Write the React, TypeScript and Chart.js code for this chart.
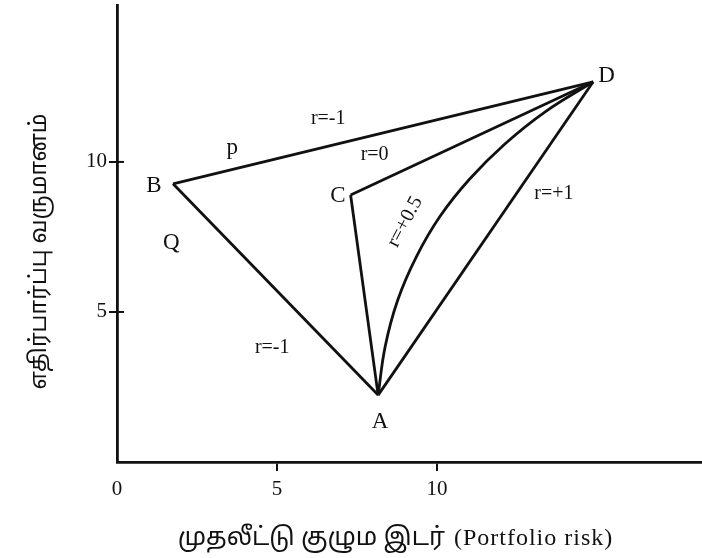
import { useEffect, useRef } from 'react';
import { Chart, registerables } from 'chart.js';

Chart.register(...registerables);

// Corner points of the portfolio diagram (risk, expected return)
const pointNames = ['A', 'B', 'C', 'D'];
const pointRisk = [8.16, 1.75, 7.3, 14.88];
const pointReturn = [2.23, 9.27, 8.9, 12.67];

// Straight connections between the named points
const segmentFrom = ['B', 'B', 'C', 'C', 'A'];
const segmentTo = ['D', 'A', 'D', 'A', 'D'];

// Curved frontier for r = +0.5 from A to D
const curveRisk = [8.16, 8.38, 8.77, 9.35, 10.09, 11.02, 12.12, 13.39, 14.88];
const curveReturn = [2.23, 3.85, 5.39, 6.83, 8.18, 9.43, 10.6, 11.68, 12.67];

// Axis ticks
const xTickValues = [0, 5, 10];
const yTickValues = [5, 10];
const xMaxValue = 18.28;
const yMaxValue = 15.23;

// Text notes placed in data coordinates
const noteTexts = ['A', 'B', 'C', 'D', 'p', 'r=-1', 'r=0', 'r=+0.5', 'r=+1', 'Q', 'r=-1'];
const noteRisk = [8.22, 1.15, 6.9, 15.3, 3.6, 6.6, 8.05, 9.0, 13.65, 1.7, 4.85];
const noteReturn = [1.35, 9.2, 8.85, 12.85, 10.45, 11.45, 10.25, 8.0, 8.95, 7.3, 3.8];
const noteAngles = [0, 0, 0, 0, 0, 0, 0, -62, 0, 0, 0];

const xTitleTamil = 'முதலீட்டு குழும இடர்';
const xTitleLatin = '(Portfolio risk)';
const yTitle = 'எதிர்பார்ப்பு வருமானம்';

const INK = '#111111';
const SERIF = "'Liberation Serif', 'DejaVu Serif', serif";
const MIXED = "'Liberation Serif', 'Noto Sans Tamil', 'Noto Serif Tamil', 'Lohit Tamil', serif";

const idx = (name: string) => pointNames.indexOf(name);

const notesPlugin = {
  id: 'notes',
  afterDraw(chart: any) {
    const { ctx, scales } = chart;
    const xs = scales.x;
    const ys = scales.y;
    ctx.save();
    // inner half of the y-axis tick crosses
    ctx.strokeStyle = INK;
    ctx.lineWidth = 2;
    yTickValues.forEach((v) => {
      const py = ys.getPixelForValue(v);
      ctx.beginPath();
      ctx.moveTo(xs.left, py);
      ctx.lineTo(xs.left + 7, py);
      ctx.stroke();
    });
    ctx.fillStyle = INK;
    ctx.textAlign = 'center';
    ctx.textBaseline = 'middle';
    noteTexts.forEach((t, i) => {
      const px = xs.getPixelForValue(noteRisk[i]);
      const py = ys.getPixelForValue(noteReturn[i]);
      const isLetter = t.length === 1;
      ctx.font = `${isLetter ? 23 : 20}px ${SERIF}`;
      ctx.save();
      ctx.translate(px, py);
      ctx.rotate((noteAngles[i] * Math.PI) / 180);
      ctx.fillText(t, 0, 0);
      ctx.restore();
    });
    // x-axis title: Tamil part + Latin part
    const titleY = chart.height - 20;
    const centerX = (xs.left + xs.right) / 2 - 14;
    ctx.textAlign = 'left';
    ctx.font = `25px ${MIXED}`;
    const wTamil = ctx.measureText(xTitleTamil).width;
    ctx.font = `24px ${SERIF}`;
    (ctx as any).letterSpacing = '1px';
    const wLatin = ctx.measureText(xTitleLatin).width;
    const gap = 9;
    const startX = centerX - (wTamil + gap + wLatin) / 2;
    ctx.fillText(xTitleLatin, startX + wTamil + gap, titleY + 1);
    (ctx as any).letterSpacing = '0px';
    ctx.font = `25px ${MIXED}`;
    ctx.fillText(xTitleTamil, startX, titleY);
    // y-axis title
    ctx.textAlign = 'center';
    ctx.font = `23px ${MIXED}`;
    ctx.save();
    ctx.translate(40, (ys.top + ys.bottom) / 2 + 18);
    ctx.rotate(-Math.PI / 2);
    ctx.fillText(yTitle, 0, 0);
    ctx.restore();
    ctx.restore();
  },
};

export default function App() {
  const canvasRef = useRef<HTMLCanvasElement | null>(null);

  useEffect(() => {
    if (!canvasRef.current) return;
    const lineStyle = {
      borderColor: INK,
      borderWidth: 2.8,
      pointRadius: 0,
      showLine: true,
      fill: false,
    };
    const datasets: any[] = segmentFrom.map((f, i) => ({
      ...lineStyle,
      label: `${f}${segmentTo[i]}`,
      data: [
        { x: pointRisk[idx(f)], y: pointReturn[idx(f)] },
        { x: pointRisk[idx(segmentTo[i])], y: pointReturn[idx(segmentTo[i])] },
      ],
      tension: 0,
    }));
    datasets.push({
      ...lineStyle,
      label: 'r=+0.5',
      data: curveRisk.map((x, i) => ({ x, y: curveReturn[i] })),
      tension: 0.4,
    });

    const chart = new Chart(canvasRef.current, {
      type: 'scatter',
      data: { datasets },
      options: {
        animation: false,
        responsive: false,
        devicePixelRatio: 1,
        layout: { padding: { top: 5, right: 0, bottom: 0, left: 0 } },
        plugins: { legend: { display: false }, tooltip: { enabled: false } },
        scales: {
          x: {
            type: 'linear',
            min: 0,
            max: xMaxValue,
            afterBuildTicks: (s: any) => {
              s.ticks = xTickValues.map((value) => ({ value }));
            },
            afterFit: (s: any) => {
              s.height = 96;
              s.paddingLeft = 0;
              s.paddingRight = 0;
            },
            border: { display: true, color: INK, width: 2.8 },
            grid: {
              display: true,
              drawOnChartArea: false,
              drawTicks: true,
              tickLength: 9,
              lineWidth: 2,
              color: (c: any) => (c.tick && c.tick.value === 0 ? 'rgba(0,0,0,0)' : INK),
            },
            ticks: {
              color: INK,
              padding: 6,
              maxRotation: 0,
              autoSkip: false,
              font: { family: SERIF, size: 21 },
              callback: (v: any) => String(v),
            },
          },
          y: {
            type: 'linear',
            min: 0,
            max: yMaxValue,
            afterBuildTicks: (s: any) => {
              s.ticks = yTickValues.map((value) => ({ value }));
            },
            afterFit: (s: any) => {
              s.width = 117;
              s.paddingTop = 0;
              s.paddingBottom = 0;
            },
            border: { display: true, color: INK, width: 2.8 },
            grid: {
              display: true,
              drawOnChartArea: false,
              drawTicks: true,
              tickLength: 8,
              lineWidth: 2,
              color: INK,
            },
            ticks: {
              color: INK,
              padding: 2,
              autoSkip: false,
              font: { family: SERIF, size: 21 },
              callback: (v: any) => String(v),
            },
          },
        },
      },
      plugins: [notesPlugin],
    });
    return () => chart.destroy();
  }, []);

  return (
    <div style={{ position: 'fixed', left: 0, top: 0, width: 702, height: 558, background: '#ffffff' }}>
      <canvas ref={canvasRef} width={702} height={558} style={{ width: 702, height: 558 }} />
    </div>
  );
}
